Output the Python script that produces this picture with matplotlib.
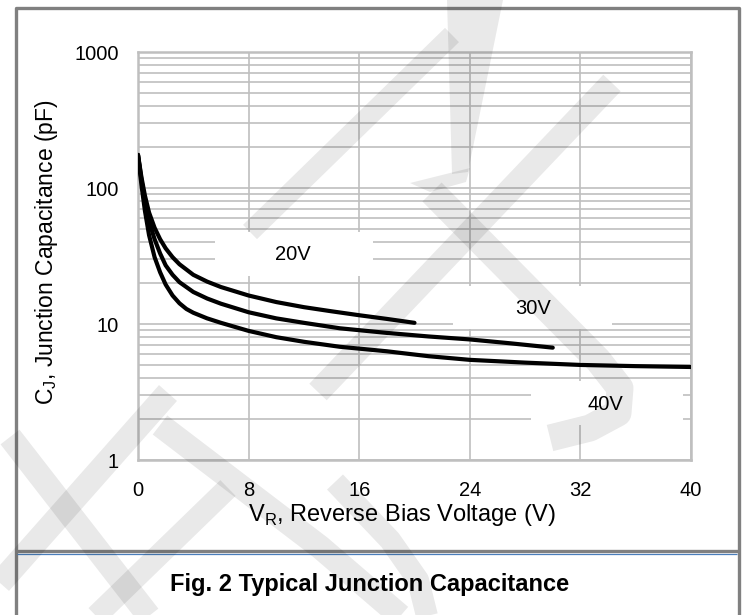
import matplotlib
matplotlib.use("Agg")
import matplotlib.pyplot as plt
from matplotlib.patches import Rectangle, Polygon
from matplotlib.lines import Line2D

plt.rcParams['font.family'] = ['Liberation Sans', 'DejaVu Sans']

# ---- data ----
v20 = [0, 0.25, 0.5, 0.8, 1.2, 1.6, 2, 2.5, 3, 4, 5, 6, 8, 10, 12, 14, 16, 18, 20]
c20 = [175, 120, 88, 66, 51, 42, 36, 31, 27.5, 23, 20.5, 18.7, 16.2, 14.5, 13.3, 12.4, 11.6, 10.9, 10.2]

v30 = [0, 0.25, 0.5, 0.8, 1.2, 1.6, 2, 2.5, 3, 4, 5, 6, 8, 10, 12, 14.6, 18, 21, 24, 27, 30]
c30 = [175, 115, 80, 57, 42, 33, 27, 23, 20.3, 17.2, 15.4, 14.1, 12.2, 11.0, 10.2, 9.3, 8.6, 8.1, 7.7, 7.2, 6.7]

v40 = [0, 0.25, 0.5, 0.8, 1.2, 1.6, 2, 2.5, 3, 3.5, 4, 5, 6, 8, 10, 12, 14.6, 18, 21, 24, 28, 32, 36, 40]
c40 = [175, 105, 68, 45, 31, 24, 19.5, 16.2, 14.2, 12.9, 12.1, 11.0, 10.2, 8.9, 8.0, 7.4, 6.8, 6.3, 5.8, 5.45, 5.2, 5.0, 4.9, 4.83]

series_labels = ["20V", "30V", "40V"]
label_pos = [(11.2, 32.2), (28.6, 12.9), (33.8, 2.55)]
label_boxes = [(5.6, 17.0, 22.5, 47.6), (22.8, 34.3, 9.2, 19.0), (28.4, 39.4, 1.8, 3.8)]

xticks = [0, 8, 16, 24, 32, 40]
yticks = [1, 10, 100, 1000]
ytick_labels = ["1", "10", "100", "1000"]

W, H = 743, 615
fig = plt.figure(figsize=(W / 100, H / 100), dpi=100)
fig.patch.set_facecolor('white')

def fx(x):
    return x / W

def fy(y):
    return 1 - y / H

ax = fig.add_axes([fx(138), fy(460), fx(691) - fx(138), fy(52) - fy(460)])
ax.set_yscale('log')
ax.set_xlim(0, 40)
ax.set_ylim(1, 1000)

gcol = '#bfbfbf'
ax.set_xticks(xticks)
ax.set_xticklabels([str(t) for t in xticks])
ax.set_yticks(yticks)
ax.set_yticklabels(ytick_labels)
ax.yaxis.set_minor_locator(matplotlib.ticker.LogLocator(base=10, subs=range(2, 10)))
ax.yaxis.set_minor_formatter(matplotlib.ticker.NullFormatter())
ax.grid(True, which='major', axis='both', color=gcol, linewidth=1.2)
ax.grid(True, which='minor', axis='y', color=gcol, linewidth=1.2)
ax.tick_params(axis='both', which='both', length=0, labelsize=14.5, colors='black')
ax.tick_params(axis='x', pad=15)
ax.tick_params(axis='y', pad=14)
for s in ax.spines.values():
    s.set_color(gcol)
    s.set_linewidth(1.8)

for (x0, x1, y0, y1) in label_boxes:
    ax.add_patch(Rectangle((x0, y0), x1 - x0, y1 - y0, facecolor='white',
                           edgecolor='none', zorder=1.8))
for lab, (xp, yp) in zip(series_labels, label_pos):
    ax.text(xp, yp, lab, ha='center', va='center', fontsize=14.5, zorder=4)

for vx, cy in [(v20, c20), (v30, c30), (v40, c40)]:
    ax.plot(vx, cy, color='black', linewidth=3.0, zorder=3,
            solid_capstyle='round', solid_joinstyle='round')

ax.set_xlabel(r"V$_\mathregular{R}$, Reverse Bias Voltage (V)", fontsize=17)
ax.set_ylabel(r"C$_\mathregular{J}$, Junction Capacitance (pF)", fontsize=16.5)
ax.xaxis.set_label_coords((402 - 138) / (691 - 138), -(502 - 460) / (460 - 52))
ax.yaxis.set_label_coords(-(138 - 60) / (691 - 138), (460 - 252) / (460 - 52))

# frame
fcol = '#808080'
def fline(pts, lw, col, z=5):
    xs = [fx(p[0]) for p in pts]
    ys = [fy(p[1]) for p in pts]
    fig.add_artist(Line2D(xs, ys, color=col, linewidth=lw, solid_capstyle='butt', zorder=z))

fline([(15.5, 620), (15.5, 7.5), (738.5, 7.5), (738.5, 620)], 2.4, fcol)
fline([(15.5, 551), (738.5, 551)], 2.4, fcol)
fline([(17, 553.5), (737, 553.5)], 0.9, '#4a7ebb')

fig.text(fx(370), fy(585), "Fig. 2 Typical Junction Capacitance", ha='center', va='center',
         fontsize=17, fontweight='bold')

# watermark (translucent bands)
WA = 0.085
wm = dict(color='black', alpha=WA, solid_capstyle='butt', solid_joinstyle='round')
def wband(pts, wpx):
    xs = [fx(p[0]) for p in pts]
    ys = [fy(p[1]) for p in pts]
    fig.add_artist(Line2D(xs, ys, linewidth=wpx * 0.72, zorder=10, **wm))

def wpoly(pts):
    fig.add_artist(Polygon([(fx(a), fy(b)) for a, b in pts], closed=True,
                           facecolor='black', edgecolor='none', alpha=WA, zorder=10))

wband([(250, 232), (452, 35)], 20)
wpoly([(447, 0), (503, 0), (468, 172), (452, 174)])
wpoly([(410, 183), (470, 168), (466, 182), (430, 192)])
wband([(432, 192), (598, 360), (620, 388), (618, 413), (590, 428), (550, 438)], 27)
wband([(612, 83), (318, 392)], 24)
wband([(10, 437), (152, 620)], 24)
wband([(0, 583), (168, 393)], 24)
wband([(160, 425), (320, 547), (405, 620)], 24)
wband([(92, 620), (228, 488)], 22)
wband([(335, 482), (390, 540), (418, 580), (428, 620)], 22)

fig.savefig("out.png", dpi=100, facecolor='white')
